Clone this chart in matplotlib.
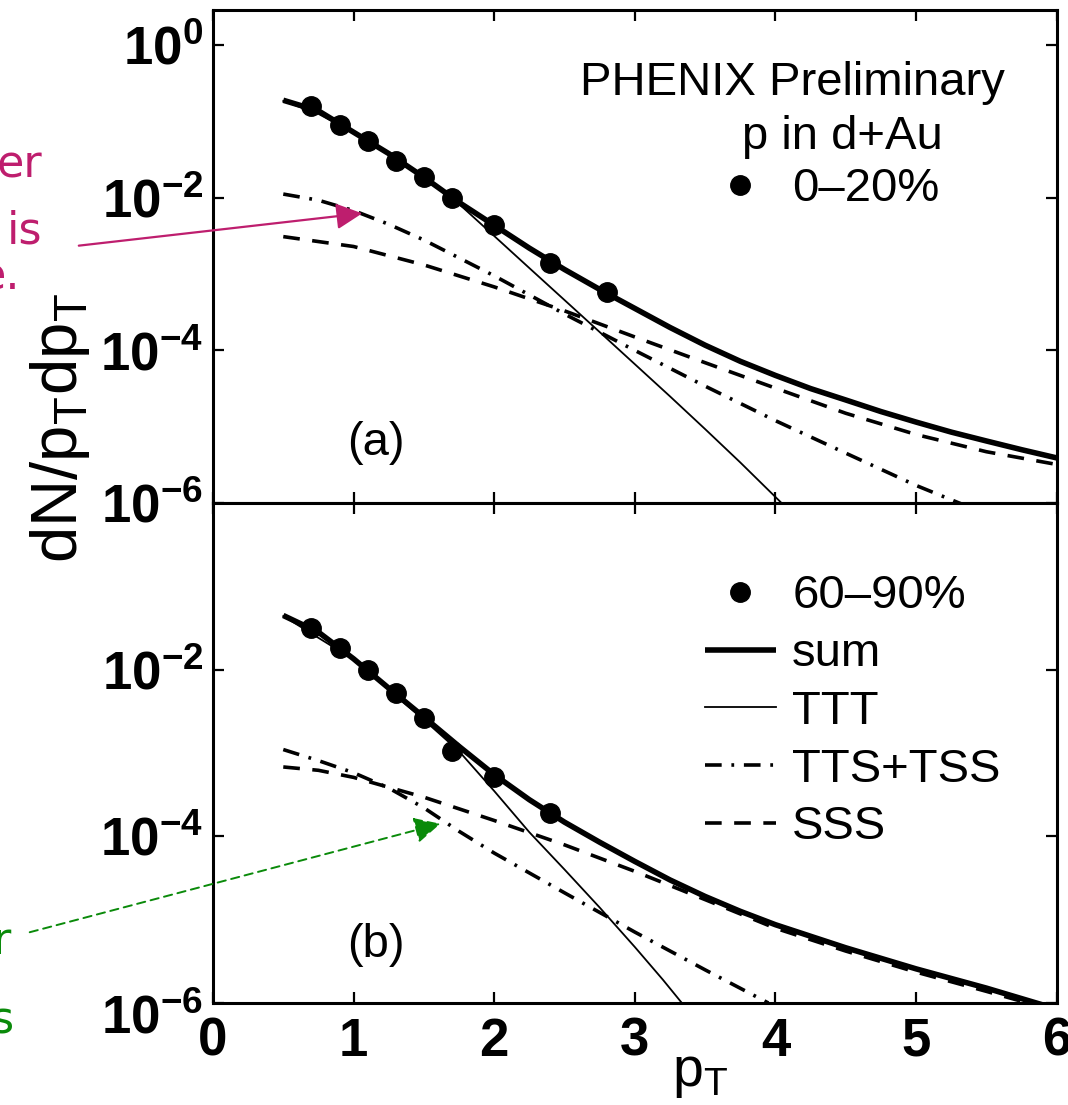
"""Two-panel log spectra (PHENIX preliminary p in d+Au) with model components."""

import matplotlib

matplotlib.use("Agg")

import matplotlib.pyplot as plt
from matplotlib.lines import Line2D
from matplotlib.patches import FancyArrowPatch
from matplotlib.ticker import NullLocator
from matplotlib.transforms import ScaledTranslation

plt.rcParams["font.family"] = ["Liberation Sans", "DejaVu Sans"]
plt.rcParams["lines.scale_dashes"] = False
plt.rcParams["mathtext.fontset"] = "custom"
plt.rcParams["mathtext.rm"] = "Liberation Sans"

# ---- data: panel (a), 0-20% ----
pt_data_a = [0.7, 0.9, 1.1, 1.3, 1.5, 1.7, 2.0, 2.4, 2.8]
dn_data_a = [1.6e-1, 9.1e-2, 5.5e-2, 3.0e-2, 1.86e-2, 9.8e-3, 4.4e-3, 1.41e-3, 5.9e-4]

pt_sum_a = [0.5, 0.75, 1.0, 1.25, 1.5, 1.75, 2.0, 2.25, 2.5, 2.75, 3.0, 3.25, 3.5, 3.75,
            4.0, 4.25, 4.5, 4.75, 5.0, 5.25, 5.5, 5.75, 6.0]
dn_sum_a = [1.9e-1, 1.38e-1, 7.24e-2, 3.8e-2, 1.86e-2, 8.7e-3, 4.37e-3, 2.19e-3, 1.15e-3,
            6.3e-4, 3.55e-4, 2.0e-4, 1.17e-4, 7.2e-5, 4.7e-5, 3.16e-5, 2.24e-5, 1.58e-5,
            1.15e-5, 8.5e-6, 6.5e-6, 5.0e-6, 3.9e-6]

pt_ttt_a = [0.5, 0.75, 1.0, 1.25, 1.5, 1.75, 2.0, 2.25, 2.5, 2.75, 3.0, 3.25, 3.5, 3.75, 4.1]
dn_ttt_a = [1.86e-1, 1.26e-1, 7.08e-2, 3.72e-2, 1.82e-2, 8.3e-3, 3.16e-3, 1.2e-3, 4.57e-4,
            1.74e-4, 6.6e-5, 2.5e-5, 9.3e-6, 3.4e-6, 7.9e-7]

pt_tts_a = [0.5, 0.75, 1.0, 1.25, 1.5, 2.0, 2.5, 3.0, 3.5, 4.0, 4.5, 5.0, 5.4]
dn_tts_a = [1.12e-2, 9.3e-3, 6.8e-3, 4.5e-3, 2.8e-3, 9.5e-4, 3.0e-4, 1.0e-4,
            3.4e-5, 1.2e-5, 4.5e-6, 1.7e-6, 8.5e-7]

pt_sss_a = [0.5, 1.0, 1.5, 2.0, 2.5, 3.0, 3.5, 4.0, 4.5, 5.0, 5.5, 6.0]
dn_sss_a = [3.1e-3, 2.3e-3, 1.32e-3, 6.8e-4, 3.3e-4, 1.5e-4, 6.9e-5, 3.2e-5,
            1.5e-5, 7.9e-6, 4.7e-6, 3.2e-6]

# ---- data: panel (b), 60-90% ----
pt_data_b = [0.7, 0.9, 1.1, 1.3, 1.5, 1.7, 2.0, 2.4]
dn_data_b = [3.2e-2, 1.82e-2, 9.8e-3, 5.2e-3, 2.6e-3, 1.07e-3, 5.2e-4, 1.9e-4]

pt_sum_b = [0.5, 0.75, 1.0, 1.25, 1.5, 1.75, 2.0, 2.25, 2.5, 2.75, 3.0, 3.25, 3.5, 3.75,
            4.0, 4.5, 5.0, 5.5, 5.9]
dn_sum_b = [4.47e-2, 2.82e-2, 1.35e-2, 6.0e-3, 2.7e-3, 1.2e-3, 5.5e-4, 2.75e-4, 1.48e-4,
            8.5e-5, 5.0e-5, 3.0e-5, 1.9e-5, 1.26e-5, 8.7e-6, 4.6e-6, 2.57e-6, 1.51e-6, 9.5e-7]

pt_ttt_b = [0.5, 1.0, 1.5, 1.75, 2.0, 2.25, 2.5, 2.75, 3.0, 3.2, 3.35]
dn_ttt_b = [4.4e-2, 1.32e-2, 2.5e-3, 1.05e-3, 3.5e-4, 1.12e-4, 4.0e-5, 1.4e-5, 4.7e-6,
            1.9e-6, 9.3e-7]

pt_tts_b = [0.5, 0.75, 1.0, 1.25, 1.5, 1.75, 2.0, 2.5, 3.0, 3.5, 3.95]
dn_tts_b = [1.1e-3, 8.1e-4, 5.8e-4, 3.8e-4, 2.2e-4, 1.15e-4, 6.3e-5, 2.1e-5,
            7.1e-6, 2.5e-6, 1.0e-6]

pt_sss_b = [0.5, 0.75, 1.0, 1.5, 2.0, 2.5, 3.0, 3.5, 4.0, 4.5, 5.0, 5.5, 5.9]
dn_sss_b = [6.8e-4, 6.2e-4, 5.1e-4, 2.95e-4, 1.55e-4, 7.9e-5, 3.8e-5, 1.74e-5,
            7.9e-6, 4.2e-6, 2.35e-6, 1.38e-6, 8.9e-7]

x_ticks = [0, 1, 2, 3, 4, 5, 6]
y_ticks_a = [1e0, 1e-2, 1e-4, 1e-6]
y_ticks_b = [1e-2, 1e-4, 1e-6]

MAGENTA = "#be1e6e"
GREEN = "#0a8a0a"
TICK_FONT = ["Liberation Sans Narrow", "Liberation Sans"]

style_sum = dict(color="k", lw=4.0, solid_capstyle="butt")
style_ttt = dict(color="k", lw=1.3)
style_tts = dict(color="k", lw=2.6, linestyle=(0, (12, 7, 2, 7)), dash_capstyle="butt")
style_sss = dict(color="k", lw=2.6, linestyle=(0, (12, 9)), dash_capstyle="butt")
style_pts = dict(color="k", marker="o", ms=14, ls="none")

fig = plt.figure(figsize=(10.68, 11.05), dpi=100)
ax_a = fig.add_axes([0.1994, 0.5448, 0.790, 0.4462])
ax_b = fig.add_axes([0.1994, 0.0923, 0.790, 0.4525])


def setup(ax, yticks, ylim, show_x):
    ax.set_yscale("log")
    ax.set_xlim(0, 6)
    ax.set_ylim(*ylim)
    ax.set_xticks(x_ticks)
    ax.set_yticks(yticks)
    ax.yaxis.set_minor_locator(NullLocator())
    ax.tick_params(which="both", direction="in", top=True, right=True,
                   length=8, width=1.6, labelsize=38, pad=7)
    ax.tick_params(axis="x", pad=10)
    for s in ax.spines.values():
        s.set_linewidth(2.2)
    if not show_x:
        ax.tick_params(labelbottom=False)
    for lab in ax.get_xticklabels() + ax.get_yticklabels():
        lab.set_fontweight("bold")
        lab.set_family(TICK_FONT)


def draw(ax, pts, sums, ttt, tts, sss):
    ax.plot(*ttt, **style_ttt)
    ax.plot(*tts, **style_tts)
    ax.plot(*sss, **style_sss)
    ax.plot(*sums, **style_sum)
    ax.plot(*pts, **style_pts)


draw(ax_a, (pt_data_a, dn_data_a), (pt_sum_a, dn_sum_a), (pt_ttt_a, dn_ttt_a),
     (pt_tts_a, dn_tts_a), (pt_sss_a, dn_sss_a))
draw(ax_b, (pt_data_b, dn_data_b), (pt_sum_b, dn_sum_b), (pt_ttt_b, dn_ttt_b),
     (pt_tts_b, dn_tts_b), (pt_sss_b, dn_sss_b))

setup(ax_a, y_ticks_a, (1e-6, 2.9), show_x=False)
setup(ax_b, y_ticks_b, (1e-6, 1.0), show_x=True)

# the 10^-6 label of panel (b) sits a little below its tick, as in the original
low = ax_b.get_yticklabels()[y_ticks_b.index(1e-6)]
low.set_transform(low.get_transform() + ScaledTranslation(0, -8 / 72, fig.dpi_scale_trans))

# legends / labels
leg_kw = dict(loc="upper left", frameon=False, borderaxespad=0, borderpad=0,
              handlelength=1.5, handletextpad=0.35, labelspacing=0.29, fontsize=34)
ax_a.legend(handles=[Line2D([], [], **style_pts)], labels=["0\u201320%"],
            bbox_to_anchor=(0.583, 0.681), **leg_kw)
ax_b.legend(handles=[Line2D([], [], **style_pts), Line2D([], [], **style_sum),
                     Line2D([], [], **style_ttt), Line2D([], [], **style_tts),
                     Line2D([], [], **style_sss)],
            labels=["60\u201390%", "sum", "TTT", "TTS+TSS", "SSS"],
            bbox_to_anchor=(0.583, 0.857), **leg_kw)

ax_a.text(0.435, 0.828, "PHENIX Preliminary", transform=ax_a.transAxes, fontsize=34,
          ha="left", va="baseline")
ax_a.text(0.627, 0.718, "p in d+Au", transform=ax_a.transAxes, fontsize=34,
          ha="left", va="baseline")
ax_a.text(0.159, 0.097, "(a)", transform=ax_a.transAxes, fontsize=34, va="baseline")
ax_b.text(0.159, 0.092, "(b)", transform=ax_b.transAxes, fontsize=34, va="baseline")

fig.text(0.056, 0.613, r"dN/p$_\mathregular{T}$dp$_\mathregular{T}$", rotation=90,
         fontsize=47, ha="center", va="center")
fig.text(0.629, 0.017, r"p$_\mathregular{T}$", fontsize=40, ha="left", va="baseline")

# cut-off handwritten notes on the left margin
note_kw = dict(fontsize=32, ha="right", va="baseline", family="DejaVu Sans")
fig.text(0.040, 0.839, "er", color=MAGENTA, **note_kw)
fig.text(0.040, 0.780, "is", color=MAGENTA, **note_kw)
fig.text(0.019, 0.738, "e.", color=MAGENTA, **note_kw)
fig.text(0.011, 0.137, "r", color=GREEN, **note_kw)
fig.text(0.013, 0.065, "s", color=GREEN, **note_kw)

fig.add_artist(FancyArrowPatch(
    (0.0712, 0.7774), (0.3418, 0.8072), transform=fig.transFigure,
    arrowstyle="-|>", mutation_scale=40, lw=1.6, color=MAGENTA))
fig.add_artist(FancyArrowPatch(
    (0.0253, 0.1557), (0.4148, 0.2552), transform=fig.transFigure,
    arrowstyle="-|>", mutation_scale=40, lw=1.4, color=GREEN, linestyle=(0, (6, 4))))

fig.savefig("out.png", dpi=100)
plt.close(fig)
